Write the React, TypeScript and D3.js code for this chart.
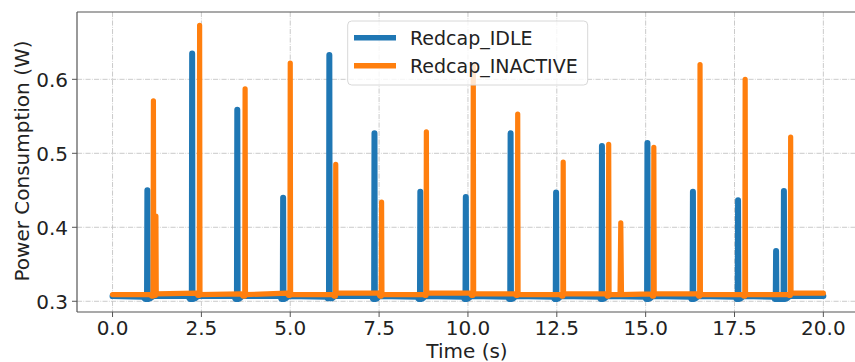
import React from "react";
import * as d3 from "d3";

const W = 855;
const H = 362;

// Redcap_IDLE series: [time (s), power (W)]
const idleSeries: [number, number][] = [
  [0.0, 0.307], [0.85, 0.306], [0.92, 0.303], [0.97, 0.303], [0.98, 0.450], [0.99, 0.303], [1.06, 0.304], [1.15, 0.307],
  [2.12, 0.307], [2.18, 0.303], [2.23, 0.303], [2.24, 0.635], [2.25, 0.303], [2.32, 0.304], [2.4, 0.307],
  [3.42, 0.307], [3.46, 0.303], [3.5, 0.303], [3.51, 0.559], [3.52, 0.303], [3.58, 0.304], [3.65, 0.307],
  [4.72, 0.307], [4.75, 0.303], [4.79, 0.303], [4.8, 0.440], [4.81, 0.303], [4.87, 0.304], [4.95, 0.307],
  [6.02, 0.306], [6.05, 0.304], [6.09, 0.304], [6.1, 0.633], [6.11, 0.304], [6.17, 0.304], [6.25, 0.307],
  [7.3, 0.307], [7.33, 0.303], [7.36, 0.303], [7.37, 0.527], [7.38, 0.303], [7.44, 0.304], [7.5, 0.307],
  [8.58, 0.306], [8.61, 0.303], [8.65, 0.303], [8.66, 0.448], [8.67, 0.303], [8.73, 0.304], [8.8, 0.307],
  [9.87, 0.306], [9.9, 0.303], [9.93, 0.303], [9.94, 0.441], [9.95, 0.303], [10.01, 0.304], [10.1, 0.307],
  [11.12, 0.306], [11.16, 0.303], [11.19, 0.303], [11.2, 0.527], [11.21, 0.303], [11.27, 0.304], [11.35, 0.307],
  [12.4, 0.306], [12.44, 0.303], [12.47, 0.303], [12.48, 0.447], [12.49, 0.303], [12.55, 0.304], [12.62, 0.307],
  [13.7, 0.306], [13.73, 0.303], [13.76, 0.303], [13.77, 0.510], [13.78, 0.303], [13.84, 0.304], [13.92, 0.307],
  [14.98, 0.306], [15.01, 0.303], [15.04, 0.303], [15.05, 0.514], [15.06, 0.303], [15.12, 0.304], [15.2, 0.307],
  [16.25, 0.306], [16.29, 0.303], [16.32, 0.303], [16.33, 0.448], [16.34, 0.303], [16.4, 0.304], [16.48, 0.307],
  [17.52, 0.306], [17.56, 0.303], [17.59, 0.303], [17.6, 0.4365], [17.61, 0.303], [17.67, 0.304], [17.75, 0.307],
  [18.6, 0.306], [18.63, 0.303], [18.66, 0.303], [18.67, 0.368], [18.68, 0.303], [18.88, 0.303],
  [18.89, 0.449], [18.9, 0.303], [18.97, 0.304], [19.05, 0.307], [20.0, 0.307],
];

// Redcap_INACTIVE series: [time (s), power (W)]
const inactiveSeries: [number, number][] = [
  [0.0, 0.309], [1.05, 0.309], [1.1, 0.307], [1.14, 0.307], [1.15, 0.571], [1.16, 0.308], [1.21, 0.308], [1.22, 0.415], [1.23, 0.310],
  [2.35, 0.311], [2.4, 0.308], [2.44, 0.308], [2.45, 0.673], [2.46, 0.309],
  [3.62, 0.310], [3.67, 0.307], [3.72, 0.307], [3.73, 0.587], [3.74, 0.309],
  [4.9, 0.311], [4.95, 0.308], [4.99, 0.308], [5.0, 0.622], [5.01, 0.309],
  [6.18, 0.309], [6.23, 0.307], [6.27, 0.307], [6.28, 0.485], [6.29, 0.311],
  [7.48, 0.311], [7.52, 0.307], [7.56, 0.307], [7.57, 0.434], [7.58, 0.309],
  [8.75, 0.309], [8.79, 0.308], [8.82, 0.308], [8.83, 0.529], [8.84, 0.311],
  [10.05, 0.311], [10.1, 0.308], [10.14, 0.308], [10.15, 0.619], [10.16, 0.310],
  [11.3, 0.310], [11.35, 0.308], [11.39, 0.308], [11.4, 0.553], [11.41, 0.309],
  [12.6, 0.309], [12.64, 0.307], [12.67, 0.307], [12.68, 0.488], [12.69, 0.310],
  [13.88, 0.310], [13.92, 0.307], [13.95, 0.307], [13.96, 0.512], [13.97, 0.309],
  [14.28, 0.309], [14.3, 0.406], [14.32, 0.309],
  [15.15, 0.310], [15.19, 0.307], [15.22, 0.307], [15.23, 0.508], [15.24, 0.310],
  [16.45, 0.310], [16.49, 0.307], [16.52, 0.307], [16.53, 0.620], [16.54, 0.309],
  [17.72, 0.309], [17.76, 0.307], [17.79, 0.307], [17.8, 0.600], [17.81, 0.309],
  [19.0, 0.309], [19.04, 0.308], [19.07, 0.308], [19.08, 0.522], [19.09, 0.311], [20.0, 0.311],
];

const xTicks = [0, 2.5, 5, 7.5, 10, 12.5, 15, 17.5, 20];
const yTicks = [0.3, 0.4, 0.5, 0.6];
const seriesNames = ["Redcap_IDLE", "Redcap_INACTIVE"];
const colors = ["#1f77b4", "#ff7f0e"];

const FONT = "DejaVu Sans, sans-serif";

export default function App() {
  const left = 77, top = 12, bottom = 312;
  const x = d3.scaleLinear().domain([-1, 21]).range([left, 858.9]);
  const y = d3.scaleLinear().domain([0.2855, 0.691]).range([bottom, top]);
  const line = d3.line<[number, number]>().x((d) => x(d[0])).y((d) => y(d[1]));
  const gridDash = "5.1,1.3,0.8,1.3";
  const gridColor = "#c4c4c4";

  return (
    <svg width={W} height={H} style={{ position: "absolute", left: 0, top: 0, background: "#fff" }}>
      <rect x={0} y={0} width={W} height={H} fill="#fff" />
      {xTicks.map((t) => (
        <line key={"gx" + t} x1={x(t)} x2={x(t)} y1={top} y2={bottom} stroke={gridColor} strokeWidth={0.9} strokeDasharray={gridDash} />
      ))}
      {yTicks.map((t) => (
        <line key={"gy" + t} x1={left} x2={W} y1={y(t)} y2={y(t)} stroke={gridColor} strokeWidth={0.9} strokeDasharray={gridDash} />
      ))}
      <path d={line(idleSeries) || ""} fill="none" stroke={colors[0]} strokeWidth={6} strokeLinejoin="round" strokeLinecap="round" />
      <path d={line(inactiveSeries) || ""} fill="none" stroke={colors[1]} strokeWidth={5.2} strokeLinejoin="round" strokeLinecap="round" />
      <line x1={left} x2={left} y1={top} y2={bottom} stroke="#555" strokeWidth={1.2} />
      <line x1={left} x2={W} y1={bottom} y2={bottom} stroke="#555" strokeWidth={1.2} />
      <line x1={left} x2={W} y1={top} y2={top} stroke="#555" strokeWidth={1.2} />
      {xTicks.map((t) => (
        <g key={"xt" + t}>
          <line x1={x(t)} x2={x(t)} y1={bottom} y2={bottom + 5} stroke="#555" strokeWidth={1} />
          <text x={x(t)} y={334.5} textAnchor="middle" fontFamily={FONT} fontSize={20} fill="#222">
            {t.toFixed(1)}
          </text>
        </g>
      ))}
      {yTicks.map((t) => (
        <g key={"yt" + t}>
          <line x1={left - 5} x2={left} y1={y(t)} y2={y(t)} stroke="#555" strokeWidth={1} />
          <text x={68} y={y(t) + 7.5} textAnchor="end" fontFamily={FONT} fontSize={20} fill="#222">
            {t.toFixed(1)}
          </text>
        </g>
      ))}
      <text x={467} y={358} textAnchor="middle" fontFamily={FONT} fontSize={20} fill="#222">Time (s)</text>
      <text transform={`translate(29,161) rotate(-90)`} textAnchor="middle" fontFamily={FONT} fontSize={20} fill="#222">
        Power Consumption (W)
      </text>
      <g>
        <rect x={347.7} y={21} width={240} height={64} rx={4} fill="#fff" fillOpacity={0.8} stroke="#d8d8d8" strokeWidth={1} />
        {seriesNames.map((n, i) => (
          <g key={n}>
            <line x1={354} x2={396} y1={37.7 + i * 28} y2={37.7 + i * 28} stroke={colors[i]} strokeWidth={5.5} />
            <text x={410} y={44.5 + i * 28} fontFamily={FONT} fontSize={19} fill="#222">{n}</text>
          </g>
        ))}
      </g>
    </svg>
  );
}
